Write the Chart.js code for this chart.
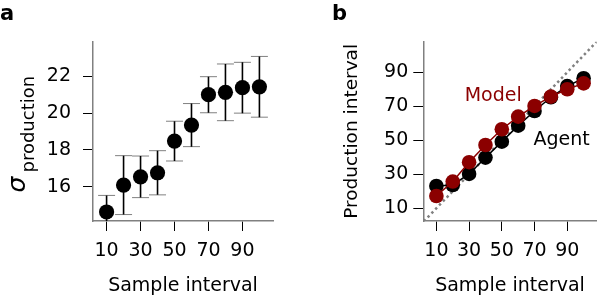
<!DOCTYPE html>
<html>
<head>
<meta charset="utf-8">
<script src="https://cdn.jsdelivr.net/npm/chart.js@4.4.1/dist/chart.umd.min.js"></script>
<style>
html, body { margin: 0; padding: 0; background: #fff; }
#wrap { position: relative; width: 604px; height: 298px; }
canvas { position: absolute; top: 0; }
</style>
</head>
<body>
<div id="wrap">
  <canvas id="chartA" width="300" height="298" style="left:0"></canvas>
  <canvas id="chartB" width="304" height="298" style="left:300px"></canvas>
</div>
<script>
// Data
const sampleIntervals = [10, 20, 30, 40, 50, 60, 70, 80, 90, 100];
const sigmaProduction = [14.63, 16.09, 16.54, 16.76, 18.48, 19.35, 21.0, 21.13, 21.38, 21.43];
const sigmaError = [0.9, 1.6, 1.13, 1.2, 1.08, 1.17, 0.98, 1.54, 1.38, 1.65];
const agentProduction = [23.1, 23.7, 30.2, 39.8, 49.2, 58.6, 67.2, 75.3, 81.9, 86.5];
const modelProduction = [17.2, 25.7, 37.1, 47.2, 56.5, 63.9, 70.2, 75.7, 80.0, 83.5];
const xTickValues = [10, 30, 50, 70, 90];
const sigmaTickValues = [16, 18, 20, 22];
const productionTickValues = [10, 30, 50, 70, 90];

const FONT = "'DejaVu Sans', sans-serif";
const MODEL_RED = '#8b0000';
const SPINE_GRAY = '#808080';

Chart.defaults.font.family = FONT;
Chart.defaults.color = '#000';

function linearAxis(min, max, tickValues, pad, extra) {
    return {
        type: 'linear',
        min: min,
        max: max,
        afterBuildTicks: s => { s.ticks = tickValues.map(v => ({ value: v })); },
        grid: { display: true, drawOnChartArea: false, drawTicks: true, tickLength: 10, tickWidth: 1, tickColor: '#000' },
        border: { display: true, color: SPINE_GRAY, width: 1.5 },
        ticks: { color: '#000', font: { size: 19 }, padding: pad, maxRotation: 0, autoSkip: false },
        ...extra
    };
}

function xAxis() {
    return linearAxis(2, 108, xTickValues, 9, {
        afterFit: s => { s.height = 77; },
        title: { display: true, text: 'Sample interval', color: '#000', font: { size: 19 }, padding: { top: 0, bottom: 1 } }
    });
}

// panel letter "a" / "b"
function panelLetter(letter, x) {
    return {
        id: 'panelLetter',
        afterDraw(chart) {
            const ctx = chart.ctx;
            ctx.save();
            ctx.font = 'bold 21px ' + FONT;
            ctx.fillStyle = '#000';
            ctx.textBaseline = 'alphabetic';
            ctx.fillText(letter, x, 20);
            ctx.restore();
        }
    };
}

// error bars drawn under the markers
const errorBars = {
    id: 'errorBars',
    beforeDatasetsDraw(chart) {
        const { ctx, chartArea, scales: { x, y } } = chart;
        ctx.save();
        ctx.beginPath();
        ctx.rect(chartArea.left, chartArea.top, chartArea.right - chartArea.left, chartArea.bottom - chartArea.top);
        ctx.clip();
        sampleIntervals.forEach((v, i) => {
            const px = x.getPixelForValue(v);
            const top = y.getPixelForValue(sigmaProduction[i] + sigmaError[i]);
            const bot = y.getPixelForValue(sigmaProduction[i] - sigmaError[i]);
            ctx.strokeStyle = SPINE_GRAY;
            ctx.lineWidth = 1;
            ctx.beginPath();
            ctx.moveTo(px - 8.5, top); ctx.lineTo(px + 8.5, top);
            ctx.moveTo(px - 8.5, bot); ctx.lineTo(px + 8.5, bot);
            ctx.stroke();
            ctx.strokeStyle = '#000';
            ctx.lineWidth = 1.6;
            ctx.beginPath();
            ctx.moveTo(px, top); ctx.lineTo(px, bot);
            ctx.stroke();
        });
        ctx.restore();
    }
};

// y label with subscript: sigma_production
const sigmaLabel = {
    id: 'sigmaLabel',
    afterDraw(chart) {
        const ctx = chart.ctx;
        ctx.save();
        ctx.translate(24.5, 191.5);
        ctx.rotate(-Math.PI / 2);
        ctx.fillStyle = '#000';
        ctx.textBaseline = 'alphabetic';
        ctx.font = 'italic 25px ' + FONT;
        ctx.fillText('σ', -1, 0);
        ctx.font = '18px ' + FONT;
        ctx.fillText('production', 19, 9);
        ctx.restore();
    }
};

// text labels next to the curves
const curveLabels = {
    id: 'curveLabels',
    afterDatasetsDraw(chart) {
        const { ctx, scales: { x, y } } = chart;
        ctx.save();
        ctx.font = '19px ' + FONT;
        ctx.textBaseline = 'alphabetic';
        ctx.fillStyle = MODEL_RED;
        ctx.fillText('Model', x.getPixelForValue(27.3), y.getPixelForValue(73.3));
        ctx.fillStyle = '#000';
        ctx.fillText('Agent', x.getPixelForValue(69.4), y.getPixelForValue(47.2));
        ctx.restore();
    }
};

const baseOptions = {
    responsive: false,
    animation: false,
    devicePixelRatio: 1,
    events: [],
    plugins: { legend: { display: false }, tooltip: { enabled: false } }
};

new Chart(document.getElementById('chartA'), {
    type: 'scatter',
    data: {
        datasets: [{
            data: sampleIntervals.map((v, i) => ({ x: v, y: sigmaProduction[i] })),
            backgroundColor: '#000',
            borderWidth: 0,
            pointRadius: 7.6,
            showLine: false
        }]
    },
    options: {
        ...baseOptions,
        layout: { padding: { left: 0, top: 41.7, right: 27, bottom: 0 } },
        scales: {
            x: xAxis(),
            y: linearAxis(14.14, 23.88, sigmaTickValues, 12, {
                afterFit: s => { s.width = 93; }
            })
        }
    },
    plugins: [errorBars, sigmaLabel, panelLetter('a', 0)]
});

new Chart(document.getElementById('chartB'), {
    type: 'scatter',
    data: {
        datasets: [
            {
                data: [{ x: 0, y: 0 }, { x: 110, y: 110 }],
                showLine: true,
                borderColor: SPINE_GRAY,
                borderWidth: 2.5,
                borderDash: [2.5, 3],
                pointRadius: 0,
                order: 3
            },
            {
                data: sampleIntervals.map((v, i) => ({ x: v, y: agentProduction[i] })),
                showLine: true,
                borderColor: '#000',
                backgroundColor: '#000',
                borderWidth: 1.5,
                pointBorderWidth: 0,
                pointRadius: 7.3,
                order: 2
            },
            {
                data: sampleIntervals.map((v, i) => ({ x: v, y: modelProduction[i] })),
                showLine: true,
                borderColor: MODEL_RED,
                backgroundColor: MODEL_RED,
                borderWidth: 1.5,
                pointBorderWidth: 0,
                pointRadius: 7.3,
                order: 1
            }
        ]
    },
    options: {
        ...baseOptions,
        layout: { padding: { left: 0, top: 41.7, right: 1.3, bottom: 0 } },
        scales: {
            x: xAxis(),
            y: linearAxis(2.5, 108, productionTickValues, 5, {
                afterFit: s => { s.width = 123.3; },
                title: { display: true, text: 'Production interval', color: '#000', font: { size: 18.5 }, padding: { top: 41, bottom: 0 } }
            })
        }
    },
    plugins: [curveLabels, panelLetter('b', 32)]
});
</script>
</body>
</html>
